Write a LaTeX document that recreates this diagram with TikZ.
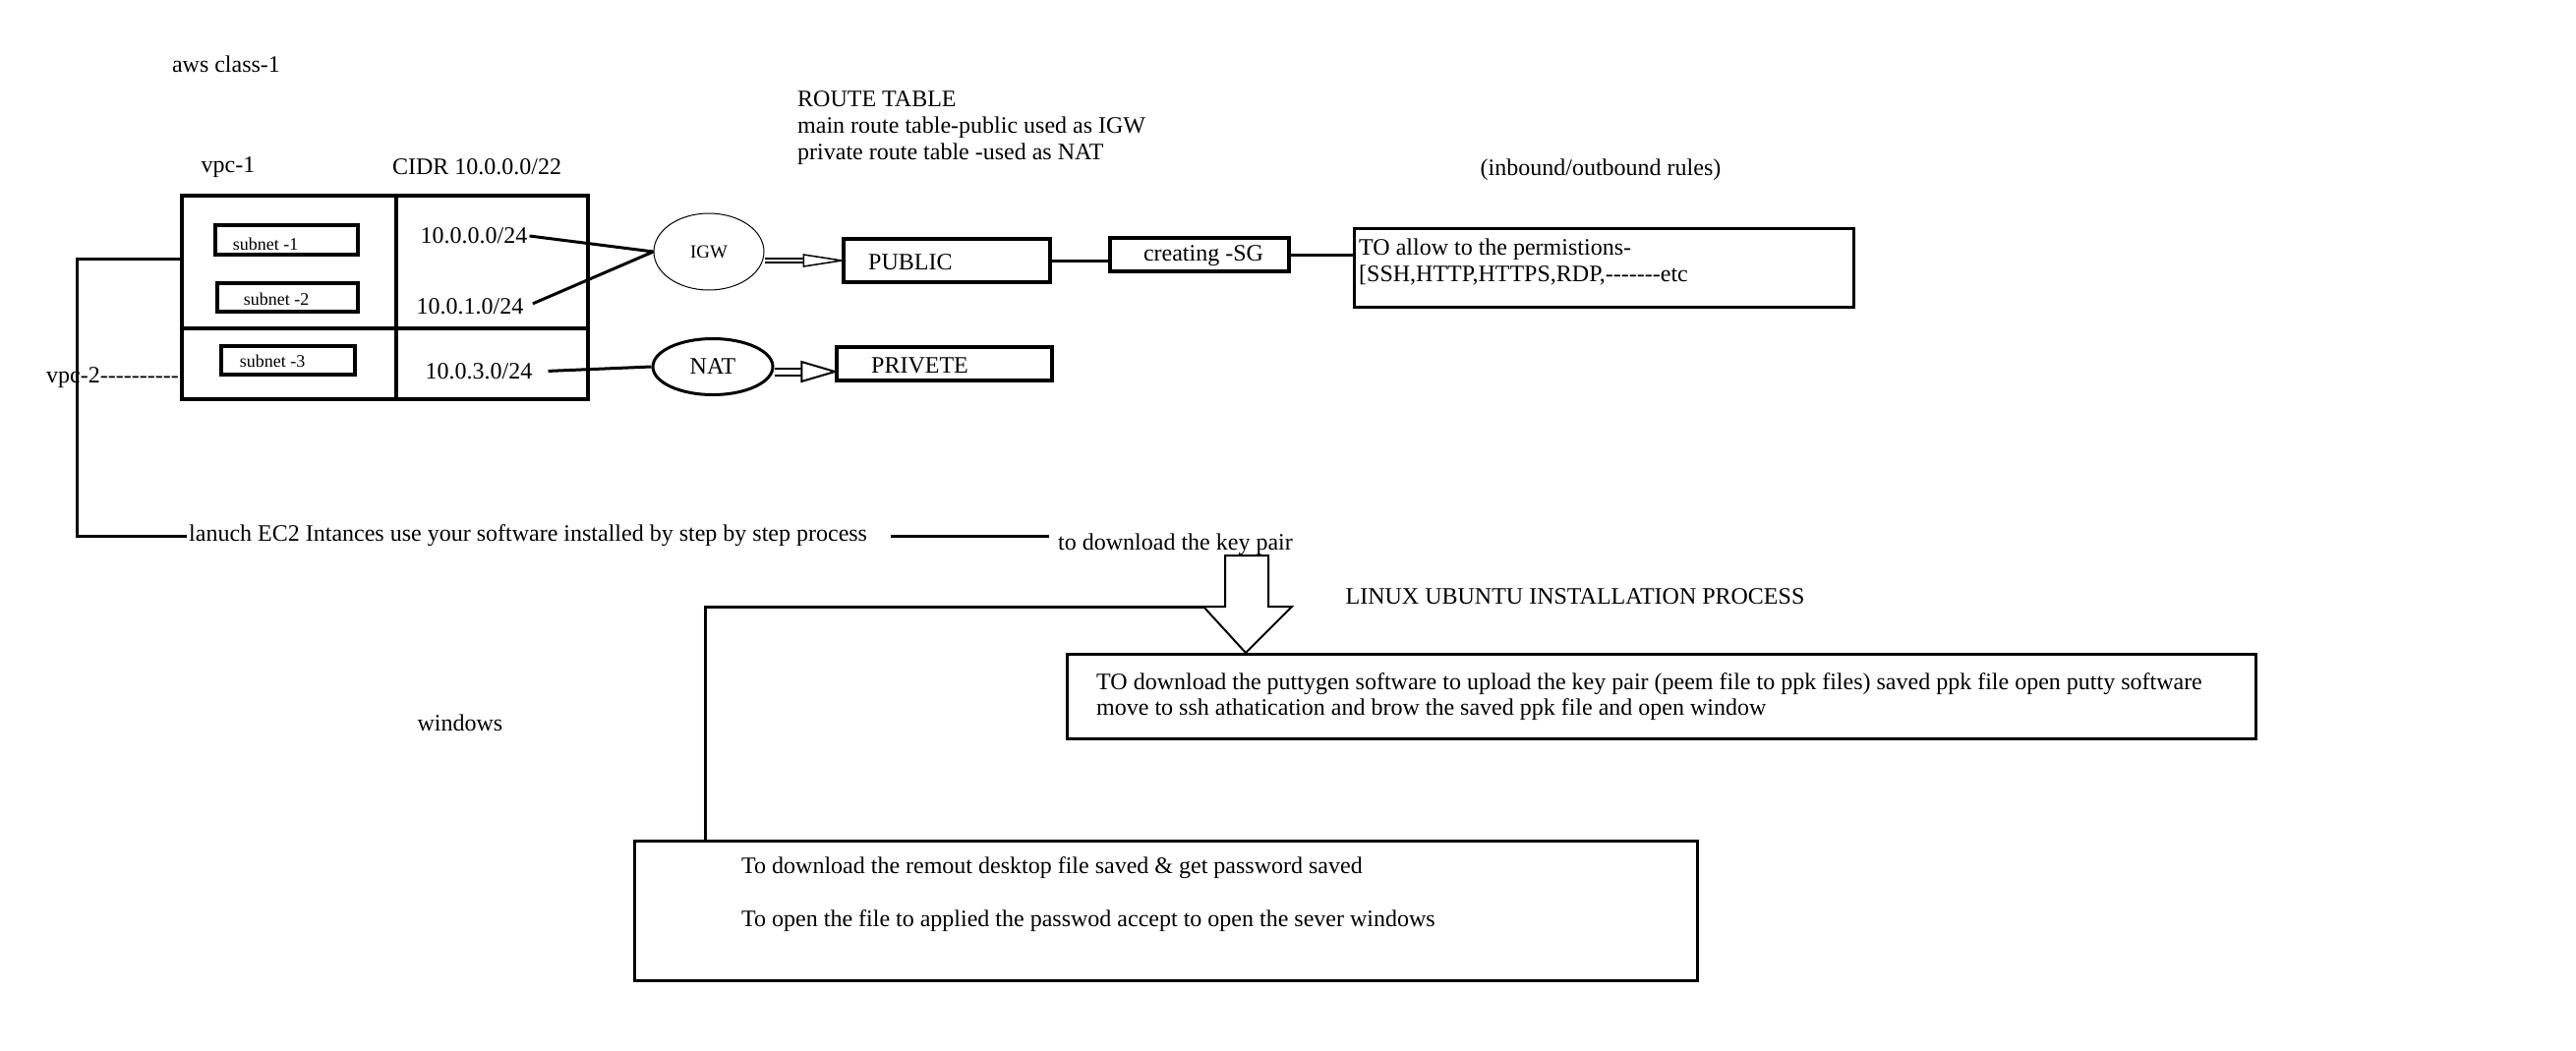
\documentclass[tikz,border=0pt]{standalone}
\usepackage{fontspec}
\setmainfont{Liberation Serif}
\usetikzlibrary{calc, shapes.geometric}

\tikzset{
	txt/.style={inner sep=2pt, font=\fontsize{24}{27}\selectfont},
	smalltxt/.style={inner sep=1pt, font=\fontsize{18}{20}\selectfont},
	box/.style={draw, line width=3.5pt, inner sep=0pt},
	link/.style={line width=3pt},
	hollow/.style={line width=2pt},
	dblthin/.style={double, line width=1.5pt, double distance=2.5pt},
	dblwide/.style={double, line width=2pt, double distance=5pt},
}

\begin{document}
\begin{tikzpicture}[x=1pt, y=-1pt]
		\useasboundingbox (0, 0) rectangle (2620, 1068);
		% headings
		\node[txt] (title) at (230, 65) {aws class-1};
		\node[txt] (vpcname) at (232, 170) {vpc-1};
		\node[txt] (cidr) at (485, 170) {CIDR 10.0.0.0/22};
		\node[txt, anchor=west, align=left, inner sep=0pt] (route) at (811, 130) {ROUTE TABLE\\main route table-public used as IGW\\private route table -used as NAT};
		\node[txt] (inout) at (1628, 173) {(inbound/outbound rules)};
		% vpc with its subnets
		\node[box, line width=4pt, minimum width=413pt, minimum height=207pt] (vpc) at (391.5, 302.5) {};
		\draw[line width=4pt] (403, 199) -- (403, 408);
		\draw[line width=4pt] (185, 334) -- (598, 334);
		\node[box, minimum width=145pt, minimum height=30pt] (sub1) at (291.5, 244) {};
		\node[box, minimum width=143pt, minimum height=29pt] (sub2) at (292.5, 302.5) {};
		\node[box, minimum width=136pt, minimum height=29pt] (sub3) at (293, 366.5) {};
		\node[smalltxt] (sub1txt) at (270, 248) {subnet -1};
		\node[smalltxt] (sub2txt) at (281, 304) {subnet -2};
		\node[smalltxt] (sub3txt) at (277, 367) {subnet -3};
		\node[txt] (ipa) at (482, 240) {10.0.0.0/24};
		\node[txt] (ipb) at (478, 312) {10.0.1.0/24};
		\node[txt] (ipc) at (487, 378) {10.0.3.0/24};
		% gateways
		\node[draw, ellipse, line width=1pt, minimum width=112pt, minimum height=78pt, inner sep=0pt, font=\fontsize{19}{21}\selectfont] (igw) at (721, 256) {IGW};
		\node[draw, ellipse, line width=3pt, minimum width=122pt, minimum height=57pt, inner sep=0pt, font=\fontsize{24}{27}\selectfont] (nat) at (725, 373) {NAT};
		\draw[link] (ipa.east) -- (igw.west);
		\draw[link, shorten <=8pt] (ipb.east) -- (igw.west);
		\draw[link, shorten <=14pt] (ipc.east) -- (nat.west);
		% route tables
		\node[box, minimum width=210pt, minimum height=44pt] (public) at (963, 265) {};
		\node[txt, anchor=west] (publictxt) at (881, 267) {PUBLIC};
		\node[box, minimum width=219pt, minimum height=34pt] (private) at (960.5, 370) {};
		\node[txt, anchor=west] (privatetxt) at (884, 372) {PRIVETE};
		\coordinate (igwout) at (igw.east |- public.west);
		\draw[dblthin] (igwout) -- ($(public.west)+(-39, 0)$);
		\draw[hollow, line width=1.5pt] ($(public.west)+(-39, -6)$) -- (public.west) -- ($(public.west)+(-39, 6)$) -- cycle;
		\coordinate (natout) at ($(nat.east)+(0, 5)$);
		\coordinate (natin) at (natout -| private.west);
		\draw[dblwide] (natout) -- ($(natin)+(-34, 0)$);
		\draw[hollow] ($(natin)+(-34, -10)$) -- (natin) -- ($(natin)+(-34, 10)$) -- cycle;
		% security group
		\node[box, minimum width=182pt, minimum height=34pt] (sg) at (1220, 259) {};
		\node[txt] (sgtxt) at (1224, 260) {creating -SG};
		\node[box, line width=3pt, minimum width=508pt, minimum height=80pt] (rules) at (1631, 272) {};
		\node[txt, anchor=west] (rulesa) at (1380, 254) {TO allow to the permistions-};
		\node[txt, anchor=west] (rulesb) at (1380, 280) {[SSH,HTTP,HTTPS,RDP,-{}-{}-{}-{}-{}-{}-etc};
		\draw[link] (public.east) -- (public.east -| sg.west);
		\draw[link] (sg.east) -- (sg.east -| rules.west);
		% launching
		\node[txt, anchor=west] (vpc2) at (45, 384) {vpc-2-{}-{}-{}-{}-{}-{}-{}-{}-{}-};
		\coordinate (bend) at (78, 263);
		\node[txt, anchor=west] (launch) at (190, 545) {lanuch EC2 Intances use your software installed by step by step process};
		\node[txt, anchor=west] (keypair) at (1074, 554) {to download the key pair};
		\draw[link] (vpc.west |- bend) -- (bend) |- (launch.west);
		\draw[link, shorten <=22pt, shorten >=7pt] (launch.east) -- (launch.east -| keypair.west);
		% linux
		\coordinate (wing) at (1224, 617);
		\draw[hollow] (1246, 565) -- (1290, 565) -- (1290, 617) -- (1314, 617) -- (1267, 664) -- (wing) -- (1246, 617) -- cycle;
		\node[txt] (linux) at (1602, 607) {LINUX UBUNTU INSTALLATION PROCESS};
		\node[box, line width=3pt, minimum width=1209pt, minimum height=86pt] (putty) at (1689.5, 708) {};
		\node[txt, anchor=west] (puttya) at (1113, 696) {TO download the puttygen software to upload the key pair (peem file to ppk files) saved ppk file open putty software};
		\node[txt, anchor=west] (puttyb) at (1113, 722) {move to ssh athatication and brow the saved ppk file and open window};
		% windows
		\node[txt] (win) at (468, 735) {windows};
		\node[box, line width=3pt, minimum width=1081pt, minimum height=142pt] (rdp) at (1185.5, 926) {};
		\node[txt, anchor=west] (rdpa) at (752, 883) {To download the remout desktop file saved \& get password saved};
		\node[txt, anchor=west] (rdpb) at (752, 937) {To open the file to applied the passwod accept to open the sever windows};
		\coordinate (winbend) at (717, 617);
		\draw[link] (wing) -- (winbend) -- (winbend |- rdp.north);
	\end{tikzpicture}
\end{document}
